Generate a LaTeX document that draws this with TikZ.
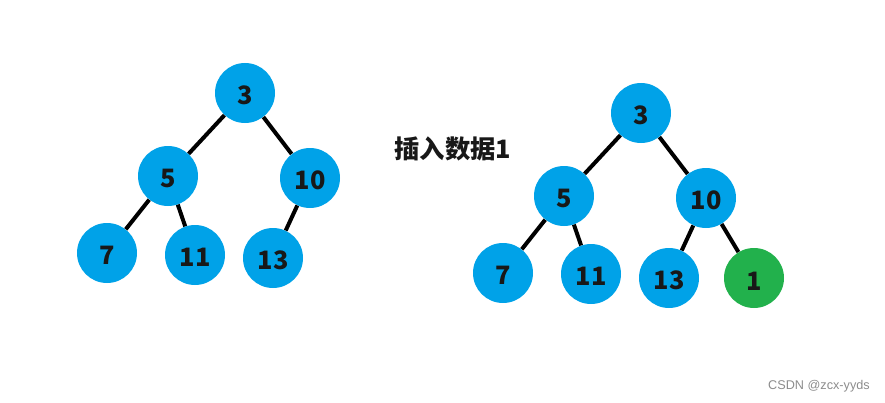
\documentclass[tikz,border=0pt]{standalone}
\usepackage{fontspec}
\setmainfont{Noto Sans}
\newfontfamily\cjkfont{Noto Sans CJK SC}
\newfontfamily\markfont{Liberation Sans}
\definecolor{heapblue}{RGB}{0,162,232}
\definecolor{heapgreen}{RGB}{34,177,76}
\definecolor{numtext}{RGB}{24,24,24}
\tikzset{
  heapnode/.style={circle, fill=heapblue, minimum size=45pt, inner sep=0pt,
    text height=17pt, text depth=0pt,
    text=numtext, font=\cjkfont\bfseries\fontsize{19}{19}\selectfont},
  heapedge/.style={line width=3pt, black},
}

\begin{document}
\begin{tikzpicture}[x=0.75pt, y=-0.75pt]
\useasboundingbox (0,0) rectangle (885,403);
% Left heap (before)
\foreach \n/\x/\y in {3/245/93, 5/168/176, 10/310/178, 7/107/253, 11/195/255, 13/273/258}
  \node[heapnode] (a\n) at (\x,\y) {\n};
\foreach \u/\v in {3/5, 3/10, 5/7, 5/11, 10/13}
  \draw[heapedge] (a\u) -- (a\v);
% Caption
\node[font=\cjkfont\bfseries\fontsize{19}{19}\selectfont, text=numtext] (caption) at (453,149) {插入数据1};
% Right heap (after insert)
\foreach \n/\x/\y in {3/641/113, 5/564/196, 10/706/198, 7/503/273, 11/591/274, 13/669/278}
  \node[heapnode] (b\n) at (\x,\y) {\n};
\node[heapnode, fill=heapgreen, text height=19pt] (b1) at (754,278) {1};
\foreach \u/\v in {3/5, 3/10, 5/7, 5/11, 10/13, 10/1}
  \draw[heapedge] (b\u) -- (b\v);
% Watermark
\node[font=\markfont\fontsize{9.5}{9.5}\selectfont, text=black!45] (mark) at (819,386) {CSDN @zcx-yyds};
\end{tikzpicture}
\end{document}
